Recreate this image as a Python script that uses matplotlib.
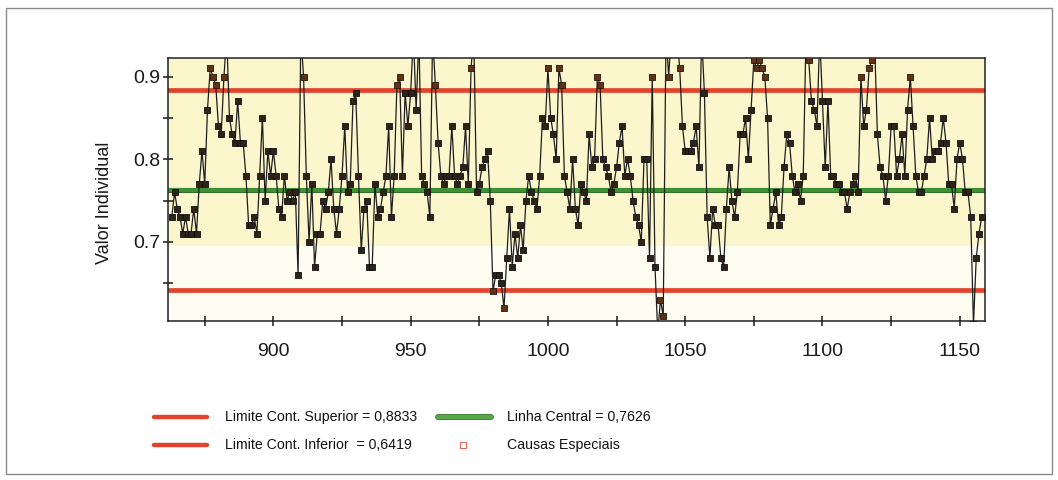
import numpy as np
import matplotlib
matplotlib.use("Agg")
import matplotlib.pyplot as plt
import matplotlib.patheffects as pe
from matplotlib.lines import Line2D
from matplotlib.patches import Rectangle

# individual values, one per sample, starting at sample 863
first_sample = 863
valores = [
    0.73, 0.76, 0.74, 0.73, 0.71, 0.73, 0.71, 0.71, 0.74, 0.71,
    0.77, 0.81, 0.77, 0.86, 0.91, 0.90, 0.89, 0.84, 0.83, 0.90,
    0.95, 0.85, 0.83, 0.82, 0.87, 0.82, 0.82, 0.78, 0.72, 0.72,
    0.73, 0.71, 0.78, 0.85, 0.75, 0.81, 0.78, 0.81, 0.78, 0.74,
    0.73, 0.78,
    0.75, 0.76, 0.75, 0.76, 0.66, 0.95, 0.90, 0.78, 0.70, 0.77,
    0.67, 0.71, 0.71, 0.75, 0.74, 0.76, 0.80, 0.74, 0.71, 0.74,
    0.78, 0.84, 0.76, 0.77, 0.87, 0.88, 0.78, 0.69, 0.74, 0.75,
    0.67, 0.67, 0.77, 0.73, 0.74, 0.76, 0.78, 0.84, 0.73, 0.78,
    0.89, 0.90, 0.78, 0.88, 0.84, 0.88, 0.95, 0.86, 0.95, 0.78,
    0.77, 0.76, 0.73,
    0.95, 0.89, 0.82, 0.78, 0.77, 0.78, 0.78, 0.84, 0.78, 0.77,
    0.78, 0.79, 0.84, 0.77, 0.91, 0.95, 0.76, 0.77, 0.79, 0.80,
    0.81, 0.75, 0.64, 0.66, 0.66, 0.65, 0.62, 0.68, 0.74, 0.67,
    0.71, 0.68, 0.72, 0.69, 0.75, 0.78, 0.76, 0.75, 0.74, 0.78,
    0.85, 0.84, 0.91, 0.85, 0.83, 0.80, 0.91, 0.89, 0.78, 0.76,
    0.74,
    0.80, 0.74, 0.72, 0.77, 0.76, 0.75, 0.83, 0.79, 0.80, 0.90,
    0.89, 0.80, 0.79, 0.78, 0.76, 0.77, 0.79, 0.82, 0.84, 0.78,
    0.80, 0.78, 0.75, 0.73, 0.72, 0.70, 0.80, 0.80, 0.68, 0.90,
    0.67, 0.59, 0.63, 0.61, 0.95, 0.90, 0.96, 0.94, 0.95, 0.91,
    0.84, 0.81, 0.81, 0.81, 0.82, 0.84, 0.79, 0.95, 0.88, 0.73,
    0.68, 0.74, 0.72,
    0.72, 0.68, 0.67, 0.74, 0.79, 0.75, 0.73, 0.76, 0.83, 0.83,
    0.85, 0.80, 0.86, 0.92, 0.91, 0.92, 0.91, 0.90, 0.85, 0.72,
    0.74, 0.76, 0.72, 0.73, 0.79, 0.83, 0.82, 0.78, 0.76, 0.77,
    0.75, 0.78, 0.95, 0.92, 0.87, 0.86, 0.84, 0.95, 0.87, 0.79,
    0.87, 0.78, 0.78, 0.77, 0.77, 0.76, 0.76, 0.74, 0.76, 0.77,
    0.78, 0.76, 0.90,
    0.84, 0.86, 0.91, 0.92, 0.94, 0.83, 0.79, 0.78, 0.75, 0.78,
    0.84, 0.84, 0.78, 0.80, 0.83, 0.78, 0.86, 0.90, 0.84, 0.78,
    0.76, 0.76, 0.78, 0.80, 0.85, 0.80, 0.81, 0.81, 0.82, 0.85,
    0.82, 0.77, 0.77, 0.74, 0.80, 0.82, 0.80, 0.76, 0.76, 0.73,
    0.60, 0.68, 0.71, 0.73,
]

lsc = 0.8833   # limite de controle superior
lic = 0.6419   # limite de controle inferior
lc = 0.7626    # linha central

amostra = np.arange(first_sample, first_sample + len(valores))
y = np.array(valores)
especial = (y > lsc) | (y < lic)

def br(v):
    return f"{v:.4f}".replace(".", ",")

vermelho = "#e2432c"
verde = "#3f8f34"
fonte = ["Liberation Sans", "DejaVu Sans"]

fig = plt.figure(figsize=(10.58, 4.8), dpi=100)
ax = fig.add_axes([0.159, 0.331, 0.772, 0.549])

ax.set_facecolor("#fdfcf1")
ax.axhspan(0.695, 1.0, color="#fbf6cc", zorder=0, lw=0)

ax.axhline(lsc, color=vermelho, lw=3.4, zorder=2)
ax.axhline(lic, color=vermelho, lw=3.4, zorder=2)
ax.axhline(lc, color=verde, lw=3.0, zorder=2,
           path_effects=[pe.Stroke(linewidth=3.6, foreground="#2e6e25"), pe.Normal()])

ax.plot(amostra, y, color="#1e1e1e", lw=0.9, zorder=3)
ax.plot(amostra[~especial], y[~especial], ls="none", marker="s", ms=4.4,
        mfc="#2e2219", mec="#111111", mew=0.6, zorder=4)
ax.plot(amostra[especial], y[especial], ls="none", marker="s", ms=4.4,
        mfc="#5e3216", mec="#2a1408", mew=0.6, zorder=4)

ax.set_xlim(861.7, 1159.2)
ax.set_ylim(0.604, 0.923)
ax.set_xticks([900, 950, 1000, 1050, 1100, 1150])
ax.set_xticks(np.arange(875, 1160, 50), minor=True)
ax.set_yticks([0.7, 0.8, 0.9])
ax.set_yticks([0.65, 0.75, 0.85], minor=True)
ax.set_yticklabels(["0.7", "0.8", "0.9"])

for s in ax.spines.values():
    s.set_linewidth(1.1)
    s.set_color("#222222")

ax.tick_params(axis="both", which="both", direction="inout", length=7, width=1.1,
               labelsize=14, colors="#1a1a1a")
ax.tick_params(axis="x", which="both", pad=12)
ax.tick_params(axis="y", which="both", pad=2.5)
for lab in ax.get_xticklabels() + ax.get_yticklabels():
    lab.set_family(fonte)

ax.set_ylabel("Valor Individual", fontsize=13, family=fonte, color="#1a1a1a")
ax.yaxis.set_label_coords(-0.068, 0.45)

# legenda desenhada abaixo do grafico
W, H = 1058.0, 480.0

def leg_line(x0, x1, yp, color, effects=None):
    fig.add_artist(Line2D([x0 / W, x1 / W], [1 - yp / H, 1 - yp / H], color=color,
                          lw=3.2, solid_capstyle="round", path_effects=effects))

def leg_text(x0, yp, s):
    fig.text(x0 / W, 1 - yp / H, s, fontsize=10.2, family=fonte,
             va="center", ha="left", color="#111111")

leg_line(154, 207, 417, vermelho)
leg_line(154, 207, 445, vermelho)
leg_line(438, 491, 417, "#5aa84c",
         [pe.Stroke(linewidth=4.2, foreground="#2e6e25"), pe.Normal()])
fig.add_artist(Line2D([463 / W], [1 - 445 / H], ls="none", marker="s", ms=4,
                      mfc="white", mec="#e06a5a", mew=0.8))

leg_text(225, 417, f"Limite Cont. Superior = {br(lsc)}")
leg_text(225, 445, f"Limite Cont. Inferior  = {br(lic)}")
leg_text(507, 417, f"Linha Central = {br(lc)}")
leg_text(507, 445, "Causas Especiais")

# moldura da figura
fig.add_artist(Rectangle((6 / W, 6 / H), 1046 / W, 466 / H, transform=fig.transFigure,
                         fill=False, ec="#8a8a8a", lw=1.0))

fig.savefig("out.png", dpi=100, facecolor="white")
